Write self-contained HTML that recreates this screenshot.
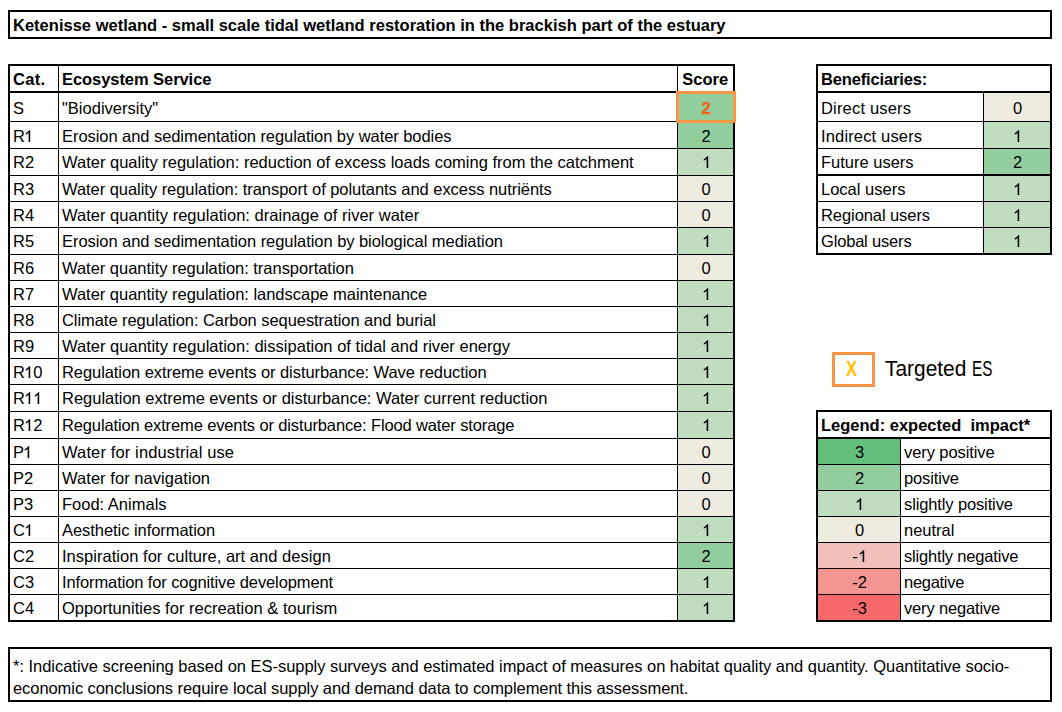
<!DOCTYPE html>
<html><head><meta charset="utf-8"><style>
html,body{margin:0;padding:0;background:#fff;}
body{width:1062px;height:712px;position:relative;overflow:hidden;}
.r{position:absolute;}
.t{position:absolute;font-family:"Liberation Sans",sans-serif;font-size:16.5px;line-height:20px;white-space:nowrap;color:#000;}
.b{font-weight:bold;}
</style></head><body>
<div class="r" style="left:8px;top:10px;width:1044px;height:2px;background:#000"></div>
<div class="r" style="left:8px;top:37px;width:1044px;height:2px;background:#000"></div>
<div class="r" style="left:8px;top:10px;width:2px;height:29px;background:#000"></div>
<div class="r" style="left:1050px;top:10px;width:2px;height:29px;background:#000"></div>
<div class="t b" style="left:13px;top:15px;letter-spacing:0.0109px;">Ketenisse wetland - small scale tidal wetland restoration in the brackish part of the estuary</div>
<div class="r" style="left:678px;top:93px;width:55px;height:28px;background:#91CD9D"></div>
<div class="r" style="left:678px;top:122px;width:55px;height:26px;background:#91CD9D"></div>
<div class="r" style="left:678px;top:149px;width:55px;height:26px;background:#C0DDBF"></div>
<div class="r" style="left:678px;top:176px;width:55px;height:25px;background:#EEECE1"></div>
<div class="r" style="left:678px;top:202px;width:55px;height:25px;background:#EEECE1"></div>
<div class="r" style="left:678px;top:228px;width:55px;height:26px;background:#C0DDBF"></div>
<div class="r" style="left:678px;top:255px;width:55px;height:25px;background:#EEECE1"></div>
<div class="r" style="left:678px;top:281px;width:55px;height:25px;background:#C0DDBF"></div>
<div class="r" style="left:678px;top:307px;width:55px;height:25px;background:#C0DDBF"></div>
<div class="r" style="left:678px;top:333px;width:55px;height:25px;background:#C0DDBF"></div>
<div class="r" style="left:678px;top:359px;width:55px;height:25px;background:#C0DDBF"></div>
<div class="r" style="left:678px;top:385px;width:55px;height:26px;background:#C0DDBF"></div>
<div class="r" style="left:678px;top:412px;width:55px;height:26px;background:#C0DDBF"></div>
<div class="r" style="left:678px;top:439px;width:55px;height:25px;background:#EEECE1"></div>
<div class="r" style="left:678px;top:465px;width:55px;height:25px;background:#EEECE1"></div>
<div class="r" style="left:678px;top:491px;width:55px;height:25px;background:#EEECE1"></div>
<div class="r" style="left:678px;top:517px;width:55px;height:25px;background:#C0DDBF"></div>
<div class="r" style="left:678px;top:543px;width:55px;height:25px;background:#91CD9D"></div>
<div class="r" style="left:678px;top:569px;width:55px;height:25px;background:#C0DDBF"></div>
<div class="r" style="left:678px;top:595px;width:55px;height:26px;background:#C0DDBF"></div>
<div class="r" style="left:8px;top:64px;width:727px;height:2px;background:#000"></div>
<div class="r" style="left:8px;top:91px;width:727px;height:2px;background:#000"></div>
<div class="r" style="left:8px;top:121px;width:727px;height:1px;background:#000"></div>
<div class="r" style="left:8px;top:148px;width:727px;height:1px;background:#000"></div>
<div class="r" style="left:8px;top:175px;width:727px;height:1px;background:#000"></div>
<div class="r" style="left:8px;top:201px;width:727px;height:1px;background:#000"></div>
<div class="r" style="left:8px;top:227px;width:727px;height:1px;background:#000"></div>
<div class="r" style="left:8px;top:254px;width:727px;height:1px;background:#000"></div>
<div class="r" style="left:8px;top:280px;width:727px;height:1px;background:#000"></div>
<div class="r" style="left:8px;top:306px;width:727px;height:1px;background:#000"></div>
<div class="r" style="left:8px;top:332px;width:727px;height:1px;background:#000"></div>
<div class="r" style="left:8px;top:358px;width:727px;height:1px;background:#000"></div>
<div class="r" style="left:8px;top:384px;width:727px;height:1px;background:#000"></div>
<div class="r" style="left:8px;top:411px;width:727px;height:1px;background:#000"></div>
<div class="r" style="left:8px;top:438px;width:727px;height:1px;background:#000"></div>
<div class="r" style="left:8px;top:464px;width:727px;height:1px;background:#000"></div>
<div class="r" style="left:8px;top:490px;width:727px;height:1px;background:#000"></div>
<div class="r" style="left:8px;top:516px;width:727px;height:1px;background:#000"></div>
<div class="r" style="left:8px;top:542px;width:727px;height:1px;background:#000"></div>
<div class="r" style="left:8px;top:568px;width:727px;height:1px;background:#000"></div>
<div class="r" style="left:8px;top:594px;width:727px;height:1px;background:#000"></div>
<div class="r" style="left:8px;top:620px;width:727px;height:2px;background:#000"></div>
<div class="r" style="left:8px;top:64px;width:2px;height:558px;background:#000"></div>
<div class="r" style="left:58px;top:64px;width:1px;height:558px;background:#000"></div>
<div class="r" style="left:677px;top:64px;width:1px;height:558px;background:#000"></div>
<div class="r" style="left:733px;top:64px;width:2px;height:558px;background:#000"></div>
<div class="t b" style="left:13px;top:69px;letter-spacing:0.3333px;">Cat.</div>
<div class="t b" style="left:62px;top:69px;letter-spacing:-0.0625px;">Ecosystem Service</div>
<div class="t b" style="left:665.3px;top:69px;width:80px;text-align:center;">Score</div>
<div class="t" style="left:13px;top:98px;">S</div>
<div class="t" style="left:62px;top:98px;">"Biodiversity"</div>
<div class="t b" style="left:666.2px;top:98px;width:80px;text-align:center;color:#EE6414;-webkit-text-stroke:0.35px #EE6414;">2</div>
<div class="t" style="left:13px;top:126px;">R<svg style="display:inline-block;vertical-align:baseline;margin-left:-0.9px;width:9.177px;height:12.085px" viewBox="0 0 1139 1500"><path transform="matrix(1 0 0 -1 0 1500)" fill="currentColor" stroke="currentColor" stroke-width="15" d="M763 0H583V1147Q518 1085 412 1023Q306 961 222 930V1104Q373 1175 486 1276Q599 1377 646 1472H763Z"/></svg></div>
<div class="t" style="left:62px;top:126px;letter-spacing:-0.0588px;">Erosion and sedimentation regulation by water bodies</div>
<div class="t" style="left:666.2px;top:126px;width:80px;text-align:center;">2</div>
<div class="t" style="left:13px;top:152px;">R2</div>
<div class="t" style="left:62px;top:152px;letter-spacing:0.0000px;">Water quality regulation: reduction of excess loads coming from the catchment</div>
<div class="t" style="left:666.2px;top:152px;width:80px;text-align:center;"><svg style="display:inline-block;vertical-align:baseline;width:9.177px;height:12.085px" viewBox="0 0 1139 1500"><path transform="matrix(1 0 0 -1 0 1500)" fill="currentColor" stroke="currentColor" stroke-width="15" d="M763 0H583V1147Q518 1085 412 1023Q306 961 222 930V1104Q373 1175 486 1276Q599 1377 646 1472H763Z"/></svg></div>
<div class="t" style="left:13px;top:179px;">R3</div>
<div class="t" style="left:62px;top:179px;letter-spacing:-0.0441px;">Water quality regulation: transport of polutants and excess nutriënts</div>
<div class="t" style="left:666.2px;top:179px;width:80px;text-align:center;">0</div>
<div class="t" style="left:13px;top:205px;">R4</div>
<div class="t" style="left:62px;top:205px;letter-spacing:0.0204px;">Water quantity regulation: drainage of river water</div>
<div class="t" style="left:666.2px;top:205px;width:80px;text-align:center;">0</div>
<div class="t" style="left:13px;top:231px;">R5</div>
<div class="t" style="left:62px;top:231px;letter-spacing:-0.0508px;">Erosion and sedimentation regulation by biological mediation</div>
<div class="t" style="left:666.2px;top:231px;width:80px;text-align:center;"><svg style="display:inline-block;vertical-align:baseline;width:9.177px;height:12.085px" viewBox="0 0 1139 1500"><path transform="matrix(1 0 0 -1 0 1500)" fill="currentColor" stroke="currentColor" stroke-width="15" d="M763 0H583V1147Q518 1085 412 1023Q306 961 222 930V1104Q373 1175 486 1276Q599 1377 646 1472H763Z"/></svg></div>
<div class="t" style="left:13px;top:258px;">R6</div>
<div class="t" style="left:62px;top:258px;letter-spacing:-0.0250px;">Water quantity regulation: transportation</div>
<div class="t" style="left:666.2px;top:258px;width:80px;text-align:center;">0</div>
<div class="t" style="left:13px;top:284px;">R7</div>
<div class="t" style="left:62px;top:284px;letter-spacing:-0.0213px;">Water quantity regulation: landscape maintenance</div>
<div class="t" style="left:666.2px;top:284px;width:80px;text-align:center;"><svg style="display:inline-block;vertical-align:baseline;width:9.177px;height:12.085px" viewBox="0 0 1139 1500"><path transform="matrix(1 0 0 -1 0 1500)" fill="currentColor" stroke="currentColor" stroke-width="15" d="M763 0H583V1147Q518 1085 412 1023Q306 961 222 930V1104Q373 1175 486 1276Q599 1377 646 1472H763Z"/></svg></div>
<div class="t" style="left:13px;top:310px;">R8</div>
<div class="t" style="left:62px;top:310px;letter-spacing:-0.0600px;">Climate regulation: Carbon sequestration and burial</div>
<div class="t" style="left:666.2px;top:310px;width:80px;text-align:center;"><svg style="display:inline-block;vertical-align:baseline;width:9.177px;height:12.085px" viewBox="0 0 1139 1500"><path transform="matrix(1 0 0 -1 0 1500)" fill="currentColor" stroke="currentColor" stroke-width="15" d="M763 0H583V1147Q518 1085 412 1023Q306 961 222 930V1104Q373 1175 486 1276Q599 1377 646 1472H763Z"/></svg></div>
<div class="t" style="left:13px;top:336px;">R9</div>
<div class="t" style="left:62px;top:336px;letter-spacing:0.0159px;">Water quantity regulation: dissipation of tidal and river energy</div>
<div class="t" style="left:666.2px;top:336px;width:80px;text-align:center;"><svg style="display:inline-block;vertical-align:baseline;width:9.177px;height:12.085px" viewBox="0 0 1139 1500"><path transform="matrix(1 0 0 -1 0 1500)" fill="currentColor" stroke="currentColor" stroke-width="15" d="M763 0H583V1147Q518 1085 412 1023Q306 961 222 930V1104Q373 1175 486 1276Q599 1377 646 1472H763Z"/></svg></div>
<div class="t" style="left:13px;top:362px;">R<svg style="display:inline-block;vertical-align:baseline;margin-left:-0.9px;width:9.177px;height:12.085px" viewBox="0 0 1139 1500"><path transform="matrix(1 0 0 -1 0 1500)" fill="currentColor" stroke="currentColor" stroke-width="15" d="M763 0H583V1147Q518 1085 412 1023Q306 961 222 930V1104Q373 1175 486 1276Q599 1377 646 1472H763Z"/></svg>0</div>
<div class="t" style="left:62px;top:362px;letter-spacing:-0.0727px;">Regulation extreme events or disturbance: Wave reduction</div>
<div class="t" style="left:666.2px;top:362px;width:80px;text-align:center;"><svg style="display:inline-block;vertical-align:baseline;width:9.177px;height:12.085px" viewBox="0 0 1139 1500"><path transform="matrix(1 0 0 -1 0 1500)" fill="currentColor" stroke="currentColor" stroke-width="15" d="M763 0H583V1147Q518 1085 412 1023Q306 961 222 930V1104Q373 1175 486 1276Q599 1377 646 1472H763Z"/></svg></div>
<div class="t" style="left:13px;top:388px;">R<svg style="display:inline-block;vertical-align:baseline;margin-left:-0.9px;width:9.177px;height:12.085px" viewBox="0 0 1139 1500"><path transform="matrix(1 0 0 -1 0 1500)" fill="currentColor" stroke="currentColor" stroke-width="15" d="M763 0H583V1147Q518 1085 412 1023Q306 961 222 930V1104Q373 1175 486 1276Q599 1377 646 1472H763Z"/></svg><svg style="display:inline-block;vertical-align:baseline;width:9.177px;height:12.085px" viewBox="0 0 1139 1500"><path transform="matrix(1 0 0 -1 0 1500)" fill="currentColor" stroke="currentColor" stroke-width="15" d="M763 0H583V1147Q518 1085 412 1023Q306 961 222 930V1104Q373 1175 486 1276Q599 1377 646 1472H763Z"/></svg></div>
<div class="t" style="left:62px;top:388px;letter-spacing:-0.0156px;">Regulation extreme events or disturbance: Water current reduction</div>
<div class="t" style="left:666.2px;top:388px;width:80px;text-align:center;"><svg style="display:inline-block;vertical-align:baseline;width:9.177px;height:12.085px" viewBox="0 0 1139 1500"><path transform="matrix(1 0 0 -1 0 1500)" fill="currentColor" stroke="currentColor" stroke-width="15" d="M763 0H583V1147Q518 1085 412 1023Q306 961 222 930V1104Q373 1175 486 1276Q599 1377 646 1472H763Z"/></svg></div>
<div class="t" style="left:13px;top:415px;">R<svg style="display:inline-block;vertical-align:baseline;margin-left:-0.9px;width:9.177px;height:12.085px" viewBox="0 0 1139 1500"><path transform="matrix(1 0 0 -1 0 1500)" fill="currentColor" stroke="currentColor" stroke-width="15" d="M763 0H583V1147Q518 1085 412 1023Q306 961 222 930V1104Q373 1175 486 1276Q599 1377 646 1472H763Z"/></svg>2</div>
<div class="t" style="left:62px;top:415px;letter-spacing:-0.1333px;">Regulation extreme events or disturbance: Flood water storage</div>
<div class="t" style="left:666.2px;top:415px;width:80px;text-align:center;"><svg style="display:inline-block;vertical-align:baseline;width:9.177px;height:12.085px" viewBox="0 0 1139 1500"><path transform="matrix(1 0 0 -1 0 1500)" fill="currentColor" stroke="currentColor" stroke-width="15" d="M763 0H583V1147Q518 1085 412 1023Q306 961 222 930V1104Q373 1175 486 1276Q599 1377 646 1472H763Z"/></svg></div>
<div class="t" style="left:13px;top:442px;">P<svg style="display:inline-block;vertical-align:baseline;margin-left:-0.9px;width:9.177px;height:12.085px" viewBox="0 0 1139 1500"><path transform="matrix(1 0 0 -1 0 1500)" fill="currentColor" stroke="currentColor" stroke-width="15" d="M763 0H583V1147Q518 1085 412 1023Q306 961 222 930V1104Q373 1175 486 1276Q599 1377 646 1472H763Z"/></svg></div>
<div class="t" style="left:62px;top:442px;letter-spacing:0.1304px;">Water for industrial use</div>
<div class="t" style="left:666.2px;top:442px;width:80px;text-align:center;">0</div>
<div class="t" style="left:13px;top:468px;">P2</div>
<div class="t" style="left:62px;top:468px;letter-spacing:0.0526px;">Water for navigation</div>
<div class="t" style="left:666.2px;top:468px;width:80px;text-align:center;">0</div>
<div class="t" style="left:13px;top:494px;">P3</div>
<div class="t" style="left:62px;top:494px;letter-spacing:0.0000px;">Food: Animals</div>
<div class="t" style="left:666.2px;top:494px;width:80px;text-align:center;">0</div>
<div class="t" style="left:13px;top:520px;">C<svg style="display:inline-block;vertical-align:baseline;margin-left:-0.9px;width:9.177px;height:12.085px" viewBox="0 0 1139 1500"><path transform="matrix(1 0 0 -1 0 1500)" fill="currentColor" stroke="currentColor" stroke-width="15" d="M763 0H583V1147Q518 1085 412 1023Q306 961 222 930V1104Q373 1175 486 1276Q599 1377 646 1472H763Z"/></svg></div>
<div class="t" style="left:62px;top:520px;letter-spacing:-0.0500px;">Aesthetic information</div>
<div class="t" style="left:666.2px;top:520px;width:80px;text-align:center;"><svg style="display:inline-block;vertical-align:baseline;width:9.177px;height:12.085px" viewBox="0 0 1139 1500"><path transform="matrix(1 0 0 -1 0 1500)" fill="currentColor" stroke="currentColor" stroke-width="15" d="M763 0H583V1147Q518 1085 412 1023Q306 961 222 930V1104Q373 1175 486 1276Q599 1377 646 1472H763Z"/></svg></div>
<div class="t" style="left:13px;top:546px;">C2</div>
<div class="t" style="left:62px;top:546px;letter-spacing:0.0263px;">Inspiration for culture, art and design</div>
<div class="t" style="left:666.2px;top:546px;width:80px;text-align:center;">2</div>
<div class="t" style="left:13px;top:572px;">C3</div>
<div class="t" style="left:62px;top:572px;letter-spacing:-0.1111px;">Information for cognitive development</div>
<div class="t" style="left:666.2px;top:572px;width:80px;text-align:center;"><svg style="display:inline-block;vertical-align:baseline;width:9.177px;height:12.085px" viewBox="0 0 1139 1500"><path transform="matrix(1 0 0 -1 0 1500)" fill="currentColor" stroke="currentColor" stroke-width="15" d="M763 0H583V1147Q518 1085 412 1023Q306 961 222 930V1104Q373 1175 486 1276Q599 1377 646 1472H763Z"/></svg></div>
<div class="t" style="left:13px;top:598px;">C4</div>
<div class="t" style="left:62px;top:598px;letter-spacing:0.0270px;">Opportunities for recreation &amp; tourism</div>
<div class="t" style="left:666.2px;top:598px;width:80px;text-align:center;"><svg style="display:inline-block;vertical-align:baseline;width:9.177px;height:12.085px" viewBox="0 0 1139 1500"><path transform="matrix(1 0 0 -1 0 1500)" fill="currentColor" stroke="currentColor" stroke-width="15" d="M763 0H583V1147Q518 1085 412 1023Q306 961 222 930V1104Q373 1175 486 1276Q599 1377 646 1472H763Z"/></svg></div>
<div class="r" style="left:676px;top:91px;width:60px;height:32px;border:3px solid #F79646;box-sizing:border-box;"></div>
<div class="r" style="left:984px;top:93px;width:66px;height:28px;background:#EEECE1"></div>
<div class="r" style="left:984px;top:122px;width:66px;height:26px;background:#C0DDBF"></div>
<div class="r" style="left:984px;top:149px;width:66px;height:26px;background:#91CD9D"></div>
<div class="r" style="left:984px;top:176px;width:66px;height:25px;background:#C0DDBF"></div>
<div class="r" style="left:984px;top:202px;width:66px;height:25px;background:#C0DDBF"></div>
<div class="r" style="left:984px;top:228px;width:66px;height:26px;background:#C0DDBF"></div>
<div class="r" style="left:816px;top:64px;width:236px;height:2px;background:#000"></div>
<div class="r" style="left:816px;top:91px;width:236px;height:2px;background:#000"></div>
<div class="r" style="left:816px;top:121px;width:236px;height:1px;background:#000"></div>
<div class="r" style="left:816px;top:148px;width:236px;height:1px;background:#000"></div>
<div class="r" style="left:816px;top:174px;width:236px;height:2px;background:#000"></div>
<div class="r" style="left:816px;top:201px;width:236px;height:1px;background:#000"></div>
<div class="r" style="left:816px;top:227px;width:236px;height:1px;background:#000"></div>
<div class="r" style="left:816px;top:253px;width:236px;height:2px;background:#000"></div>
<div class="r" style="left:816px;top:64px;width:2px;height:191px;background:#000"></div>
<div class="r" style="left:1050px;top:64px;width:2px;height:191px;background:#000"></div>
<div class="r" style="left:983px;top:92px;width:1px;height:163px;background:#000"></div>
<div class="t b" style="left:821px;top:69px;letter-spacing:-0.1538px;">Beneficiaries:</div>
<div class="t" style="left:821px;top:98px;letter-spacing:0.1818px;">Direct users</div>
<div class="t" style="left:977.5px;top:98px;width:80px;text-align:center;">0</div>
<div class="t" style="left:821px;top:126px;letter-spacing:0.1538px;">Indirect users</div>
<div class="t" style="left:977.5px;top:126px;width:80px;text-align:center;"><svg style="display:inline-block;vertical-align:baseline;width:9.177px;height:12.085px" viewBox="0 0 1139 1500"><path transform="matrix(1 0 0 -1 0 1500)" fill="currentColor" stroke="currentColor" stroke-width="15" d="M763 0H583V1147Q518 1085 412 1023Q306 961 222 930V1104Q373 1175 486 1276Q599 1377 646 1472H763Z"/></svg></div>
<div class="t" style="left:821px;top:152px;letter-spacing:0.0000px;">Future users</div>
<div class="t" style="left:977.5px;top:152px;width:80px;text-align:center;">2</div>
<div class="t" style="left:821px;top:179px;letter-spacing:0.0000px;">Local users</div>
<div class="t" style="left:977.5px;top:179px;width:80px;text-align:center;"><svg style="display:inline-block;vertical-align:baseline;width:9.177px;height:12.085px" viewBox="0 0 1139 1500"><path transform="matrix(1 0 0 -1 0 1500)" fill="currentColor" stroke="currentColor" stroke-width="15" d="M763 0H583V1147Q518 1085 412 1023Q306 961 222 930V1104Q373 1175 486 1276Q599 1377 646 1472H763Z"/></svg></div>
<div class="t" style="left:821px;top:205px;letter-spacing:-0.0769px;">Regional users</div>
<div class="t" style="left:977.5px;top:205px;width:80px;text-align:center;"><svg style="display:inline-block;vertical-align:baseline;width:9.177px;height:12.085px" viewBox="0 0 1139 1500"><path transform="matrix(1 0 0 -1 0 1500)" fill="currentColor" stroke="currentColor" stroke-width="15" d="M763 0H583V1147Q518 1085 412 1023Q306 961 222 930V1104Q373 1175 486 1276Q599 1377 646 1472H763Z"/></svg></div>
<div class="t" style="left:821px;top:231px;letter-spacing:-0.1818px;">Global users</div>
<div class="t" style="left:977.5px;top:231px;width:80px;text-align:center;"><svg style="display:inline-block;vertical-align:baseline;width:9.177px;height:12.085px" viewBox="0 0 1139 1500"><path transform="matrix(1 0 0 -1 0 1500)" fill="currentColor" stroke="currentColor" stroke-width="15" d="M763 0H583V1147Q518 1085 412 1023Q306 961 222 930V1104Q373 1175 486 1276Q599 1377 646 1472H763Z"/></svg></div>
<div class="r" style="left:832px;top:352px;width:43px;height:35px;border:3px solid #F79646;box-sizing:border-box;"></div>
<div class="t" style="left:845.6px;top:354.3px;font-size:22px;line-height:30px;color:#FFC000;font-weight:bold;transform:scaleX(0.75);transform-origin:0 0;">X</div>
<div class="t" style="left:884.6px;top:353.5px;font-size:21.5px;line-height:30px;transform:scaleX(0.972);transform-origin:0 0;">Targeted</div>
<div class="t" style="left:972px;top:353.5px;font-size:21.5px;line-height:30px;transform:scaleX(0.71);transform-origin:0 0;">ES</div>
<div class="r" style="left:818px;top:439px;width:82px;height:25px;background:#63BE7B"></div>
<div class="r" style="left:818px;top:465px;width:82px;height:25px;background:#91CD9D"></div>
<div class="r" style="left:818px;top:491px;width:82px;height:25px;background:#C0DDBF"></div>
<div class="r" style="left:818px;top:517px;width:82px;height:25px;background:#EEECE1"></div>
<div class="r" style="left:818px;top:543px;width:82px;height:25px;background:#F1C0BA"></div>
<div class="r" style="left:818px;top:569px;width:82px;height:25px;background:#F59592"></div>
<div class="r" style="left:818px;top:595px;width:82px;height:26px;background:#F8696B"></div>
<div class="r" style="left:816px;top:410px;width:236px;height:2px;background:#000"></div>
<div class="r" style="left:816px;top:437px;width:236px;height:2px;background:#000"></div>
<div class="r" style="left:816px;top:464px;width:236px;height:1px;background:#000"></div>
<div class="r" style="left:816px;top:490px;width:236px;height:1px;background:#000"></div>
<div class="r" style="left:816px;top:516px;width:236px;height:1px;background:#000"></div>
<div class="r" style="left:816px;top:542px;width:236px;height:1px;background:#000"></div>
<div class="r" style="left:816px;top:568px;width:236px;height:1px;background:#000"></div>
<div class="r" style="left:816px;top:594px;width:236px;height:1px;background:#000"></div>
<div class="r" style="left:816px;top:620px;width:236px;height:2px;background:#000"></div>
<div class="r" style="left:816px;top:410px;width:2px;height:212px;background:#000"></div>
<div class="r" style="left:1050px;top:410px;width:2px;height:212px;background:#000"></div>
<div class="r" style="left:900px;top:438px;width:1px;height:184px;background:#000"></div>
<div class="t b" style="left:821px;top:415px;">Legend: expected&nbsp; impact*</div>
<div class="t" style="left:819.7px;top:442px;width:80px;text-align:center;">3</div>
<div class="t" style="left:904px;top:442px;letter-spacing:-0.0833px;">very positive</div>
<div class="t" style="left:819.7px;top:468px;width:80px;text-align:center;">2</div>
<div class="t" style="left:904px;top:468px;letter-spacing:-0.1429px;">positive</div>
<div class="t" style="left:819.7px;top:494px;width:80px;text-align:center;"><svg style="display:inline-block;vertical-align:baseline;width:9.177px;height:12.085px" viewBox="0 0 1139 1500"><path transform="matrix(1 0 0 -1 0 1500)" fill="currentColor" stroke="currentColor" stroke-width="15" d="M763 0H583V1147Q518 1085 412 1023Q306 961 222 930V1104Q373 1175 486 1276Q599 1377 646 1472H763Z"/></svg></div>
<div class="t" style="left:904px;top:494px;letter-spacing:-0.1250px;">slightly positive</div>
<div class="t" style="left:819.7px;top:520px;width:80px;text-align:center;">0</div>
<div class="t" style="left:904px;top:520px;letter-spacing:0.0000px;">neutral</div>
<div class="t" style="left:819.7px;top:546px;width:80px;text-align:center;">-<svg style="display:inline-block;vertical-align:baseline;width:9.177px;height:12.085px" viewBox="0 0 1139 1500"><path transform="matrix(1 0 0 -1 0 1500)" fill="currentColor" stroke="currentColor" stroke-width="15" d="M763 0H583V1147Q518 1085 412 1023Q306 961 222 930V1104Q373 1175 486 1276Q599 1377 646 1472H763Z"/></svg></div>
<div class="t" style="left:904px;top:546px;letter-spacing:-0.1875px;">slightly negative</div>
<div class="t" style="left:819.7px;top:572px;width:80px;text-align:center;">-2</div>
<div class="t" style="left:904px;top:572px;letter-spacing:-0.2857px;">negative</div>
<div class="t" style="left:819.7px;top:598px;width:80px;text-align:center;">-3</div>
<div class="t" style="left:904px;top:598px;letter-spacing:-0.1667px;">very negative</div>
<div class="r" style="left:8px;top:647px;width:1044px;height:2px;background:#000"></div>
<div class="r" style="left:8px;top:700px;width:1044px;height:2px;background:#000"></div>
<div class="r" style="left:8px;top:647px;width:2px;height:55px;background:#000"></div>
<div class="r" style="left:1050px;top:647px;width:2px;height:55px;background:#000"></div>
<div class="t" style="left:13px;top:656px;letter-spacing:-0.0296px;">*: Indicative screening based on ES-supply surveys and estimated impact of measures on habitat quality and quantity. Quantitative socio-</div>
<div class="t" style="left:13px;top:678px;letter-spacing:-0.0690px;">economic conclusions require local supply and demand data to complement this assessment.</div>
</body></html>
